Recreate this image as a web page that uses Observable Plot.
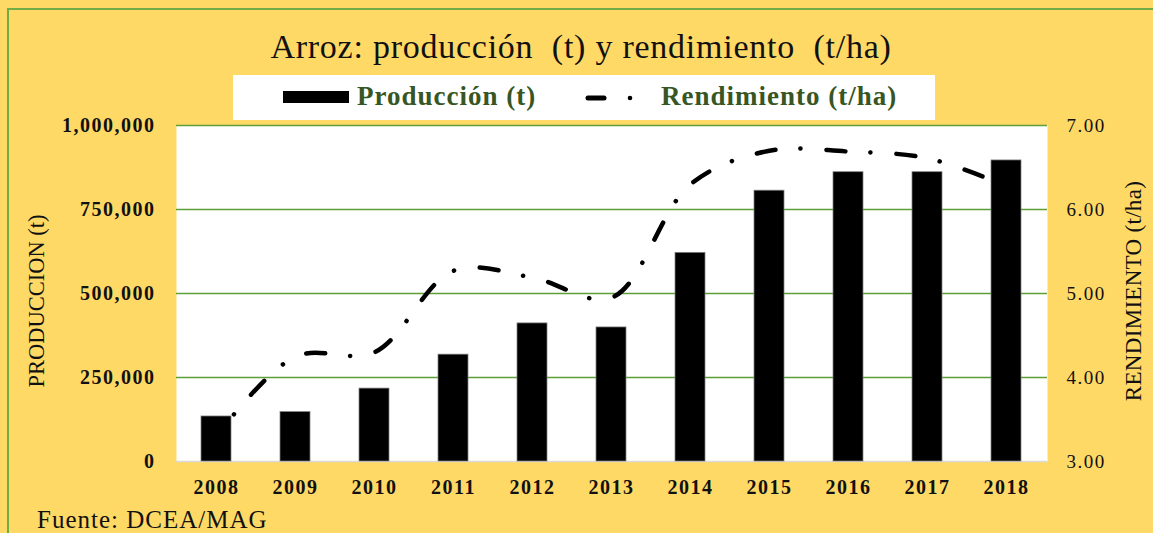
<!DOCTYPE html>
<html><head><meta charset="utf-8">
<script src="https://cdn.jsdelivr.net/npm/d3@7"></script>
<script src="https://cdn.jsdelivr.net/npm/@observablehq/plot@0.6"></script>
<style>
body{margin:0;}
#wrap{position:relative;width:1153px;height:533px;background:#FFD966;overflow:hidden;font-family:"Liberation Serif","Times New Roman",serif;color:#111;}
#border{position:absolute;left:7px;top:8px;width:1300px;height:700px;border:2.5px solid #70AD47;box-sizing:border-box;}
.abs{position:absolute;white-space:pre;line-height:1;}
#title{left:0;width:1162px;top:30px;text-align:center;font-size:34px;letter-spacing:0.75px;}
#legendBox{position:absolute;left:233px;top:75px;width:702px;height:45px;background:#fff;}
.leg{font-size:27px;font-weight:bold;color:#375623;top:83px;letter-spacing:1px;}
#footer{left:37px;top:507px;font-size:25px;letter-spacing:1px;}
.rot{transform:translate(-50%,-50%) rotate(-90deg);}
#ytitleL{left:37px;top:301px;font-size:22.5px;}
#ytitleR{left:1133px;top:291px;font-size:23px;letter-spacing:0.3px;}
#chart{position:absolute;left:0;top:0;}
#chart svg g[aria-label="y-axis tick label"] text,#chart svg g[aria-label="x-axis tick label"] text{letter-spacing:1.5px;}
#chart svg g[aria-label="rule"].grid line{stroke:#5E9E37;}
</style>
</head><body>
<div id="wrap">
  <div id="border"></div>
  <div id="chart"></div>
  <div id="title" class="abs">Arroz: producción  (t) y rendimiento  (t/ha)</div>
  <div id="legendBox"></div>
  <svg id="legSw" style="position:absolute;left:0;top:0;overflow:visible" width="1153" height="533"></svg>
  <div class="abs leg" id="leg1" style="left:357px">Producción (t)</div>
  <div class="abs leg" id="leg2" style="left:661px">Rendimiento (t/ha)</div>
  <div id="footer" class="abs">Fuente: DCEA/MAG</div>
  <div id="ytitleL" class="abs rot">PRODUCCION (t)</div>
  <div id="ytitleR" class="abs rot">RENDIMIENTO (t/ha)</div>
</div>
<script>
// ---- data ----
const years = ["2008","2009","2010","2011","2012","2013","2014","2015","2016","2017","2018"];
const produccion = [134000, 147000, 217000, 318000, 411000, 399000, 621000, 806000, 861000, 861000, 896000];
const rendimiento = [3.30, 4.25, 4.30, 5.27, 5.19, 4.95, 6.30, 6.70, 6.69, 6.61, 6.28];
const prodTicks = [0, 250000, 500000, 750000, 1000000];
const rendTicks = [3, 4, 5, 6, 7];

// ---- secondary axis mapped onto primary scale ----
const yMax = 1000000, rMin = 3, rMax = 7;
const toProd = r => (r - rMin) / (rMax - rMin) * yMax;
const fromProd = p => rMin + p / yMax * (rMax - rMin);
const data = years.map((year, i) => ({year, prod: produccion[i], rend: rendimiento[i]}));

const chart = Plot.plot({
  width: 1153, height: 533,
  marginLeft: 176, marginRight: 106, marginTop: 125, marginBottom: 72,
  style: {background: "transparent", fontFamily: "Liberation Serif, Times New Roman, serif", color: "#111", overflow: "visible"},
  x: {domain: years, paddingInner: 0.62, paddingOuter: 0.31, axis: null},
  y: {domain: [0, yMax], axis: null},
  marks: [
    Plot.frame({fill: "white", stroke: "none"}),
    Plot.ruleY(prodTicks.filter(d => d > 0), {stroke: "#5E9E37", strokeOpacity: 1, strokeWidth: 1.5, className: "grid"}),
    Plot.ruleY([0], {stroke: "#D9D9D9", strokeWidth: 1.5}),
    Plot.barY(data, {x: "year", y: "prod", fill: "black", stroke: "#808080", strokeWidth: 0.75}),
    Plot.line(data, {x: "year", y: d => toProd(d.rend), curve: "catmull-rom", stroke: "black",
      strokeWidth: 4.5, strokeDasharray: "19,25,0.1,26", strokeDashoffset: 16, strokeLinecap: "round"}),
    Plot.axisY({anchor: "left", ticks: prodTicks, tickFormat: d3.format(","), tickSize: 0, tickPadding: 21,
      fontSize: 20, fontWeight: "bold", label: null}),
    Plot.axisY({anchor: "right", ticks: rendTicks.map(toProd), tickFormat: d => fromProd(d).toFixed(2),
      tickSize: 0, tickPadding: 19, fontSize: 19, label: null}),
    Plot.axisX({tickSize: 0, tickPadding: 18, fontSize: 20, fontWeight: "bold", label: null})
  ]
});
document.getElementById("chart").appendChild(chart);

// legend swatches
const sw = d3.select("#legSw");
sw.append("rect").attr("x", 283).attr("y", 91).attr("width", 66).attr("height", 12).attr("fill", "black");
sw.append("line").attr("x1", 588).attr("x2", 604).attr("y1", 98).attr("y2", 98)
  .attr("stroke", "black").attr("stroke-width", 5).attr("stroke-linecap", "round");
sw.append("circle").attr("cx", 630).attr("cy", 98).attr("r", 2.3).attr("fill", "black");
</script>
</body></html>
